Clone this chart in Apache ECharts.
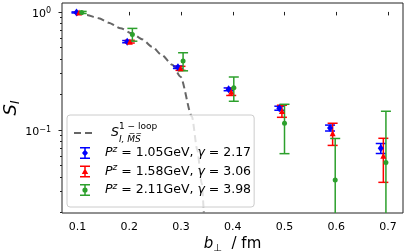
<!DOCTYPE html>
<html><head><meta charset="utf-8">
<script src="https://cdn.jsdelivr.net/npm/echarts@6/dist/echarts.min.js"></script>
<style>html,body{margin:0;padding:0;background:#fff}#c{width:407px;height:252px}</style>
</head><body><div id="c"></div>
<script>
// ---- data ----
const bBlue  = [0.098, 0.196, 0.294, 0.392, 0.490, 0.588, 0.686];
const sBlue  = [0.99, 0.56, 0.34, 0.221, 0.153, 0.104, 0.070];
const eBlue  = [0.010, 0.012, 0.008, 0.006, 0.006, 0.006, 0.0068];
const bRed   = [0.103, 0.201, 0.299, 0.397, 0.495, 0.593, 0.691];
const sRed   = [0.99, 0.56, 0.333, 0.211, 0.145, 0.094, 0.0605];
const eRed   = [0.012, 0.015, 0.013, 0.015, 0.017, 0.020, 0.0245];
const bGreen = [0.108, 0.206, 0.304, 0.402, 0.500, 0.598, 0.696];
const sGreen = [0.99, 0.645, 0.384, 0.228, 0.114, 0.0377, 0.053];
const eGreen = [0.020, 0.080, 0.067, 0.053, 0.051, 0.047, 0.091];
const bCurve = [0.098, 0.118, 0.141, 0.160, 0.183, 0.205, 0.225, 0.244, 0.263, 0.283, 0.299, 0.321, 0.3315, 0.340, 0.344];
const sCurve = [1.0, 0.943, 0.884, 0.811, 0.727, 0.66, 0.587, 0.508, 0.432, 0.356, 0.283, 0.130, 0.0677, 0.0353, 0.020];
const xTicks = [0.1, 0.2, 0.3, 0.4, 0.5, 0.6, 0.7];
const yMajor = [0.1, 1];
const yMinor = [0.02,0.03,0.04,0.05,0.06,0.07,0.08,0.09,0.2,0.3,0.4,0.5,0.6,0.7,0.8,0.9];
const xMin = 0.07, xMax = 0.729, yMin = 0.0198, yMax = 1.19;

const FONT = 'DejaVu Sans';
const cBlue = '#0000ff', cRed = '#ff0000', cGreen = '#2ca02c';
const zip3 = (a, b, c) => a.map((v, i) => [v, b[i], c[i]]);

function errItem(color) {
  return function (params, api) {
    const x = api.value(0), y = api.value(1), e = api.value(2);
    const lo = Math.max(y - e, 1e-4), hi = y + e;
    const pH = api.coord([x, hi]), pL = api.coord([x, lo]);
    const cw = 5, st = { stroke: color, lineWidth: 1.5 };
    return { type: 'group', children: [
      { type: 'line', shape: { x1: pH[0], y1: pH[1], x2: pL[0], y2: pL[1] }, style: st },
      { type: 'line', shape: { x1: pH[0]-cw, y1: pH[1], x2: pH[0]+cw, y2: pH[1] }, style: st },
      { type: 'line', shape: { x1: pL[0]-cw, y1: pL[1], x2: pL[0]+cw, y2: pL[1] }, style: st }
    ]};
  };
}
const bars = 'M0 0 L10 0 L10 1.5 L0 1.5 Z M0 10.5 L10 10.5 L10 12 L0 12 Z M4.25 0 L5.75 0 L5.75 12 L4.25 12 Z ';
const iconBlue  = 'path://' + bars + 'M5 2.4 L8 6 L5 9.6 L2 6 Z';
const iconRed   = 'path://' + bars + 'M5 2.8 L8.2 8.4 L1.8 8.4 Z';
const iconGreen = 'path://' + bars + 'M2.4 6 A2.6 2.6 0 1 1 7.6 6 A2.6 2.6 0 1 1 2.4 6 Z';

const legendText = {
  lo: '{sp| }{S|S}{sub|I, M\u0305S\u0305}{sup|1 \u2212 loop}',
  p1: '{sp| }{P|P}{sup2|z}{t| = 1.05GeV, }{g|\u03b3}{t| = 2.17}',
  p2: '{sp| }{P|P}{sup2|z}{t| = 1.58GeV, }{g|\u03b3}{t| = 3.06}',
  p3: '{sp| }{P|P}{sup2|z}{t| = 2.11GeV, }{g|\u03b3}{t| = 3.98}'
};
const LFS = 12.5;
const legendRich = {
  sp: { width: 10, fontSize: LFS },
  S: { fontFamily: FONT, fontStyle: 'italic', fontSize: LFS, lineHeight: 22, color: '#000' },
  sub: { fontFamily: FONT, fontStyle: 'italic', fontSize: 9, lineHeight: 14, verticalAlign: 'bottom', width: 0, color: '#000' },
  sup: { fontFamily: FONT, fontSize: 9, lineHeight: 11, verticalAlign: 'top', color: '#000' },
  P: { fontFamily: FONT, fontStyle: 'italic', fontSize: LFS, lineHeight: 16, color: '#000' },
  sup2: { fontFamily: FONT, fontStyle: 'italic', fontSize: 9, lineHeight: 11, verticalAlign: 'top', color: '#000' },
  t: { fontFamily: FONT, fontSize: LFS, lineHeight: 16, color: '#000' },
  g: { fontFamily: FONT, fontStyle: 'italic', fontSize: LFS, lineHeight: 16, color: '#000' }
};

const chart = echarts.init(document.getElementById('c'), null, { renderer: 'canvas' });
const tickColor = '#222';
chart.setOption({
  animation: false,
  backgroundColor: '#fff',
  grid: { left: 62, right: 4, top: 3, bottom: 39, show: true, borderColor: '#222', borderWidth: 1,
          backgroundColor: 'transparent', outerBoundsMode: 'none', containLabel: false },
  legend: [
    { data: [{ name: 'lo' }], orient: 'vertical', left: 67, top: 115, itemWidth: 22, itemHeight: 14,
      padding: [7, 97, 63, 6], backgroundColor: 'rgba(255,255,255,0.8)', borderColor: '#cccccc', borderWidth: 1, borderRadius: 3,
      itemStyle: { color: 'rgba(0,0,0,0)', borderWidth: 0, opacity: 0 },
      lineStyle: { color: '#666', width: 2, type: [7, 4] },
      formatter: n => legendText[n], textStyle: { rich: legendRich }, selectedMode: false, z: 5 },
    { data: [{ name: 'p1', icon: iconBlue }, { name: 'p2', icon: iconRed }, { name: 'p3', icon: iconGreen }],
      orient: 'vertical', left: 80, top: 145, itemWidth: 10, itemHeight: 12, itemGap: 4, padding: 0,
      formatter: n => legendText[n], textStyle: { rich: legendRich }, selectedMode: false, z: 6 }
  ],
  xAxis: {
    type: 'value', min: xMin, max: xMax,
    axisLine: { show: false }, splitLine: { show: false },
    axisTick: { show: true, inside: false, length: 3.5, customValues: xTicks, lineStyle: { color: tickColor } },
    axisLabel: { customValues: xTicks, formatter: v => v.toFixed(1), margin: 9, fontFamily: FONT, fontSize: 11, color: '#000' },
    name: '{i|b}{sub|\u22a5}{t|  / fm}', nameLocation: 'middle', nameGap: 22, nameMoveOverlap: false,
    nameTextStyle: { rich: {
      i: { fontFamily: FONT, fontStyle: 'italic', fontSize: 15, color: '#000', lineHeight: 18 },
      sub: { fontFamily: FONT, fontSize: 10, color: '#000', verticalAlign: 'bottom', lineHeight: 14 },
      t: { fontFamily: FONT, fontSize: 15, color: '#000', lineHeight: 18 } } }
  },
  yAxis: [
    { type: 'log', min: yMin, max: yMax, axisLine: { show: false }, axisTick: { show: false },
      axisLabel: { show: false }, splitLine: { show: false }, minorTick: { show: false }, minorSplitLine: { show: false } },
    { type: 'value', position: 'left', min: Math.log10(yMin), max: Math.log10(yMax),
      axisLine: { show: false }, splitLine: { show: false },
      axisTick: { show: true, length: 3.5, customValues: yMajor.map(Math.log10), lineStyle: { color: tickColor } },
      axisLabel: { customValues: yMajor.map(Math.log10), margin: 11, padding: [5, 0, 0, 0],
        formatter: v => '{b|10}{s|' + (Math.round(v) < 0 ? '\u2212' + (-Math.round(v)) : Math.round(v)) + '}',
        rich: { b: { fontFamily: FONT, fontSize: 11, color: '#000', lineHeight: 14 },
                s: { fontFamily: FONT, fontSize: 8, color: '#000', verticalAlign: 'top', lineHeight: 9 } } },
      name: '{S|S}{sub|I}', nameLocation: 'middle', nameGap: 40, nameMoveOverlap: false,
      nameTextStyle: { rich: {
        S: { fontFamily: FONT, fontStyle: 'italic', fontSize: 18, color: '#000', lineHeight: 22 },
        sub: { fontFamily: FONT, fontStyle: 'italic', fontSize: 12, color: '#000', verticalAlign: 'bottom', lineHeight: 16 } } }
    },
    { type: 'value', position: 'left', min: Math.log10(yMin), max: Math.log10(yMax),
      axisLine: { show: false }, splitLine: { show: false }, axisLabel: { show: false },
      axisTick: { show: true, length: 2, customValues: yMinor.map(Math.log10), lineStyle: { color: tickColor } } }
  ],
  series: [
    { name: 'lo', type: 'line', data: bCurve.map((b, i) => [b, sCurve[i]]), yAxisIndex: 0, symbol: 'none',
      smooth: 0.25, smoothMonotone: 'x',
      lineStyle: { color: '#666', width: 2, type: [7, 4] }, itemStyle: { color: '#666' }, z: 2 },
    { name: 'p1', type: 'custom', data: zip3(bBlue, sBlue, eBlue), renderItem: errItem(cBlue), clip: true, itemStyle: { color: cBlue }, z: 3 },
    { name: 'p1', type: 'scatter', data: bBlue.map((b, i) => [b, sBlue[i]]), symbol: 'diamond', symbolSize: [6, 8], itemStyle: { color: cBlue, opacity: 1 }, z: 3 },
    { name: 'p2', type: 'custom', data: zip3(bRed, sRed, eRed), renderItem: errItem(cRed), clip: true, itemStyle: { color: cRed }, z: 3 },
    { name: 'p2', type: 'scatter', data: bRed.map((b, i) => [b, sRed[i]]), symbol: 'triangle', symbolSize: 6, itemStyle: { color: cRed, opacity: 1 }, z: 3 },
    { name: 'p3', type: 'custom', data: zip3(bGreen, sGreen, eGreen), renderItem: errItem(cGreen), clip: true, itemStyle: { color: cGreen }, z: 3 },
    { name: 'p3', type: 'scatter', data: bGreen.map((b, i) => [b, sGreen[i]]), symbol: 'circle', symbolSize: 5, itemStyle: { color: cGreen, opacity: 1 }, z: 3 }
  ]
});
</script></body></html>
